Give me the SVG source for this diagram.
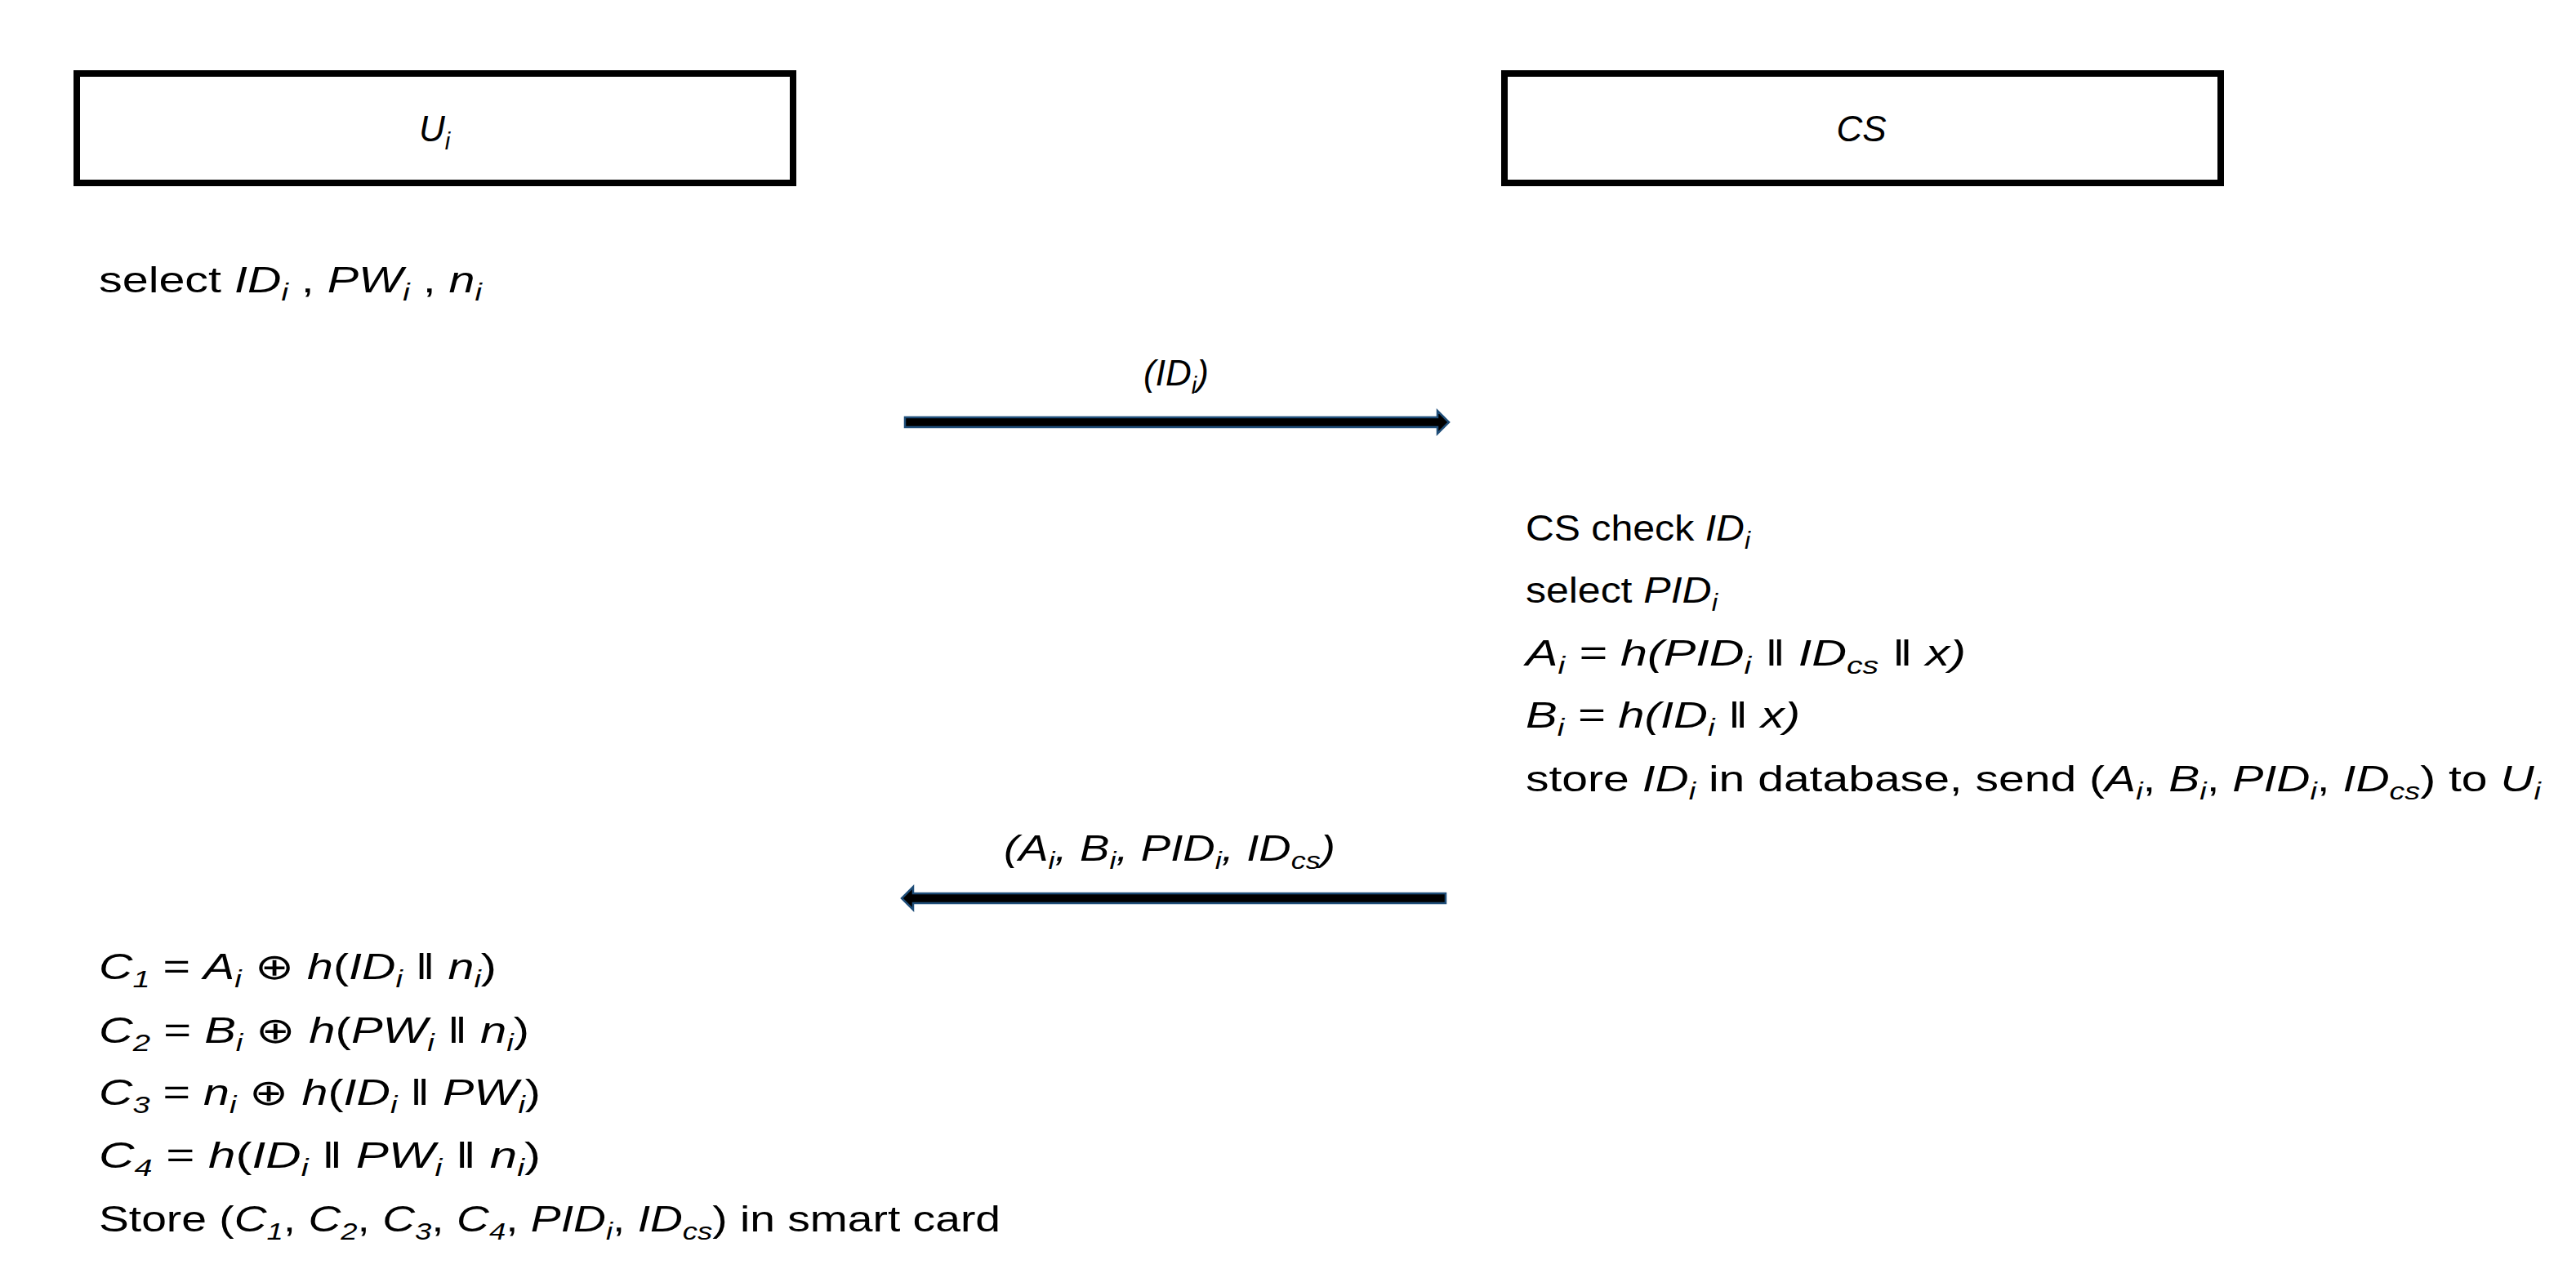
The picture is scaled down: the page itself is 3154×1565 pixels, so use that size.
<svg xmlns="http://www.w3.org/2000/svg" width="3154" height="1565" viewBox="0 0 3154 1565">
<style>
text{font-family:"Liberation Sans",Arial,sans-serif;font-size:44px;fill:#000}
.i{font-style:italic}
.s{font-size:29px;font-style:italic}
.box{fill:#fff;stroke:#000;stroke-width:8}
.arr{fill:#000;stroke:#1f4e79;stroke-width:2.5}
</style>
<rect width="3154" height="1565" fill="#fff"/>
<g id="node-ui"><rect class="box" x="94" y="90" width="877" height="134"/><text x="532" y="173" text-anchor="middle" class="i">U<tspan class="s" dy="10">i</tspan></text></g>
<g id="node-cs"><rect class="box" x="1842" y="90" width="877" height="134"/><text x="2279" y="173" text-anchor="middle" class="i">CS</text></g>
<g id="ui-step1"><text x="121" y="358" textLength="469" lengthAdjust="spacingAndGlyphs">select <tspan class="i">ID</tspan><tspan class="s" dy="10">i</tspan><tspan dy="-10"> , </tspan><tspan class="i">PW</tspan><tspan class="s" dy="10">i</tspan><tspan dy="-10"> , </tspan><tspan class="i">n</tspan><tspan class="s" dy="10">i</tspan></text></g>
<g id="cs-step"><text x="1868" y="662" textLength="275" lengthAdjust="spacingAndGlyphs">CS check <tspan class="i">ID</tspan><tspan class="s" dy="10">i</tspan></text>
<text x="1868" y="738" textLength="235" lengthAdjust="spacingAndGlyphs">select <tspan class="i">PID</tspan><tspan class="s" dy="10">i</tspan></text>
<text x="1868" y="815" class="i" textLength="539" lengthAdjust="spacingAndGlyphs">A<tspan class="s" dy="10">i</tspan><tspan dy="-10"> = h(PID</tspan><tspan class="s" dy="10">i</tspan><tspan dy="-10"> ǁ ID</tspan><tspan class="s" dy="10">cs</tspan><tspan dy="-10"> ǁ x)</tspan></text>
<text x="1868" y="891" class="i" textLength="336" lengthAdjust="spacingAndGlyphs">B<tspan class="s" dy="10">i</tspan><tspan dy="-10"> = h(ID</tspan><tspan class="s" dy="10">i</tspan><tspan dy="-10"> ǁ x)</tspan></text>
<text x="1868" y="969" textLength="1243" lengthAdjust="spacingAndGlyphs">store <tspan class="i">ID</tspan><tspan class="s" dy="10">i</tspan><tspan dy="-10"> in database, send (</tspan><tspan class="i">A</tspan><tspan class="s" dy="10">i</tspan><tspan dy="-10">, </tspan><tspan class="i">B</tspan><tspan class="s" dy="10">i</tspan><tspan dy="-10">, </tspan><tspan class="i">PID</tspan><tspan class="s" dy="10">i</tspan><tspan dy="-10">, </tspan><tspan class="i">ID</tspan><tspan class="s" dy="10">cs</tspan><tspan dy="-10">) to </tspan><tspan class="i">U</tspan><tspan class="s" dy="10">i</tspan></text></g>
<g id="ui-step2">
<text x="121" y="1199" textLength="487" lengthAdjust="spacingAndGlyphs"><tspan class="i">C</tspan><tspan class="s" dy="10" font-style="normal">1</tspan><tspan dy="-10"> = </tspan><tspan class="i">A</tspan><tspan class="s" dy="10">i</tspan><tspan dy="-10"> ⊕ </tspan><tspan class="i">h</tspan>(<tspan class="i">ID</tspan><tspan class="s" dy="10">i</tspan><tspan dy="-10"> ǁ </tspan><tspan class="i">n</tspan><tspan class="s" dy="10">i</tspan><tspan dy="-10">)</tspan></text>
<text x="121" y="1277" textLength="527" lengthAdjust="spacingAndGlyphs"><tspan class="i">C</tspan><tspan class="s" dy="10">2</tspan><tspan dy="-10"> = </tspan><tspan class="i">B</tspan><tspan class="s" dy="10">i</tspan><tspan dy="-10"> ⊕ </tspan><tspan class="i">h</tspan>(<tspan class="i">PW</tspan><tspan class="s" dy="10">i</tspan><tspan dy="-10"> ǁ </tspan><tspan class="i">n</tspan><tspan class="s" dy="10">i</tspan><tspan dy="-10">)</tspan></text>
<text x="121" y="1353" textLength="541" lengthAdjust="spacingAndGlyphs"><tspan class="i">C</tspan><tspan class="s" dy="10">3</tspan><tspan dy="-10"> = </tspan><tspan class="i">n</tspan><tspan class="s" dy="10">i</tspan><tspan dy="-10"> ⊕ </tspan><tspan class="i">h</tspan>(<tspan class="i">ID</tspan><tspan class="s" dy="10">i</tspan><tspan dy="-10"> ǁ </tspan><tspan class="i">PW</tspan><tspan class="s" dy="10">i</tspan><tspan dy="-10">)</tspan></text>
<text x="121" y="1430" textLength="541" lengthAdjust="spacingAndGlyphs"><tspan class="i">C</tspan><tspan class="s" dy="10">4</tspan><tspan dy="-10"> = </tspan><tspan class="i">h</tspan>(<tspan class="i">ID</tspan><tspan class="s" dy="10">i</tspan><tspan dy="-10"> ǁ </tspan><tspan class="i">PW</tspan><tspan class="s" dy="10">i</tspan><tspan dy="-10"> ǁ </tspan><tspan class="i">n</tspan><tspan class="s" dy="10">i</tspan><tspan dy="-10">)</tspan></text>
<text x="121" y="1508" textLength="1104" lengthAdjust="spacingAndGlyphs">Store (<tspan class="i">C</tspan><tspan class="s" dy="10">1</tspan><tspan dy="-10">, </tspan><tspan class="i">C</tspan><tspan class="s" dy="10">2</tspan><tspan dy="-10">, </tspan><tspan class="i">C</tspan><tspan class="s" dy="10">3</tspan><tspan dy="-10">, </tspan><tspan class="i">C</tspan><tspan class="s" dy="10">4</tspan><tspan dy="-10">, </tspan><tspan class="i">PID</tspan><tspan class="s" dy="10">i</tspan><tspan dy="-10">, </tspan><tspan class="i">ID</tspan><tspan class="s" dy="10">cs</tspan><tspan dy="-10">) in smart card</tspan></text></g>
<g id="connectors">
<path class="arr" d="M1108,511 H1760 V503 L1774,517 L1760,531 V523 H1108 Z"/>
<text x="1440" y="472" text-anchor="middle" class="i">(ID<tspan class="s" dy="10">i</tspan><tspan dy="-10">)</tspan></text>
<path class="arr" d="M1770,1094 H1118 V1086 L1104,1100 L1118,1114 V1106 H1770 Z"/>
<text x="1432" y="1054" text-anchor="middle" class="i" textLength="406" lengthAdjust="spacingAndGlyphs">(A<tspan class="s" dy="10">i</tspan><tspan dy="-10">, B</tspan><tspan class="s" dy="10">i</tspan><tspan dy="-10">, PID</tspan><tspan class="s" dy="10">i</tspan><tspan dy="-10">, ID</tspan><tspan class="s" dy="10">cs</tspan><tspan dy="-10">)</tspan></text>
</g>
</svg>
